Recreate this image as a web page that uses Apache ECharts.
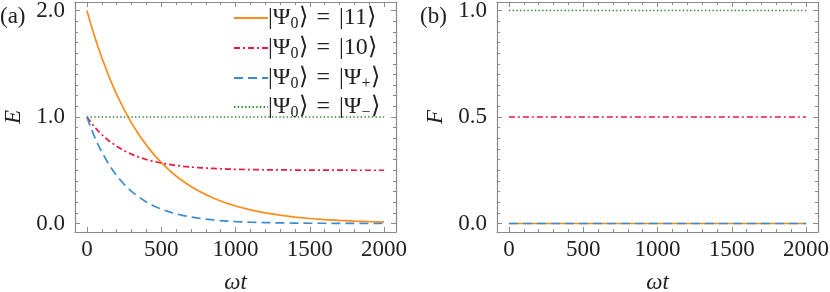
<!DOCTYPE html>
<html>
<head>
<meta charset="utf-8">
<script src="https://cdn.jsdelivr.net/npm/echarts@6/dist/echarts.min.js"></script>
<style>html,body{margin:0;padding:0;background:#fff;}#c{width:830px;height:292px;}</style>
</head>
<body>
<div id="c"></div>
<script>
// ---- data ----
const tA = [0, 25, 50, 75, 100, 150, 200, 250, 300, 350, 400, 450, 500, 550, 600, 650, 700, 750, 800, 850, 900, 950, 1000, 1100, 1200, 1300, 1400, 1500, 1600, 1700, 1800, 1900, 2000];
const E11 = [2.000, 1.879, 1.765, 1.658, 1.558, 1.375, 1.213, 1.071, 0.945, 0.834, 0.736, 0.649, 0.573, 0.506, 0.446, 0.394, 0.348, 0.307, 0.271, 0.239, 0.211, 0.186, 0.164, 0.128, 0.100, 0.078, 0.060, 0.047, 0.037, 0.029, 0.022, 0.017, 0.013];
const E10 = [1.000, 0.952, 0.909, 0.870, 0.835, 0.774, 0.725, 0.684, 0.651, 0.623, 0.601, 0.583, 0.568, 0.555, 0.545, 0.537, 0.530, 0.525, 0.520, 0.517, 0.514, 0.511, 0.509, 0.506, 0.504, 0.503, 0.502, 0.501, 0.501, 0.501, 0.500, 0.500, 0.500];
const EPlus = [1.000, 0.905, 0.819, 0.741, 0.670, 0.549, 0.449, 0.368, 0.301, 0.247, 0.202, 0.165, 0.135, 0.111, 0.091, 0.074, 0.061, 0.050, 0.041, 0.033, 0.027, 0.022, 0.018, 0.012, 0.008, 0.006, 0.004, 0.002, 0.002, 0.001, 0.001, 0.000, 0.000];
const tMinus = [0, 2000];
const EMinus = [1.0, 1.0];
const tB = [0, 2000];
const F11 = [0, 0];
const F10 = [0.5, 0.5];
const FPlus = [0, 0];
const FMinus = [1, 1];
const xTicks = [0, 500, 1000, 1500, 2000];
const yTicksA = [0, 1, 2];
const yTicksB = [0, 0.5, 1];
const names = ['s11', 's10', 'sPlus', 'sMinus'];
const legendTexts = [
  '|Ψ{sub|0}⟩{eq|=}|11⟩',
  '|Ψ{sub|0}⟩{eq|=}|10⟩',
  '|Ψ{sub|0}⟩{eq|=}|Ψ{sub|+}⟩',
  '|Ψ{sub|0}⟩{eq|=}|Ψ{sub|−}⟩'
];

const FONT = "'Liberation Serif', 'Times New Roman', serif";
const FRAME = '#8a8a8a';
const TXT = '#222';
const colors = ['#ff8c1a', '#f0173c', '#3a8ccf', '#2a8a2a'];
const dashes = ['solid', [6, 3, 2, 3], [9, 5], [1.4, 2.3]];
const widths = [1.7, 1.7, 1.7, 1.7];

function range(a, b, s) { const r = []; for (let v = a; v <= b + 1e-9; v += s) r.push(+v.toFixed(6)); return r; }
const xMinor = range(0, 2000, 100);
const yMinorA = range(0, 2, 0.1);
const yMinorB = range(0, 1, 0.05);

const grids = [
  { left: 75, top: 2, width: 321, height: 230, containLabel: false, outerBoundsMode: 'none' },
  { left: 497, top: 2, width: 321, height: 230, containLabel: false, outerBoundsMode: 'none' }
];

const xAxis = [], yAxis = [];
function addX(gi, pos, major, withLabel) {
  xAxis.push({
    type: 'value', gridIndex: gi, position: pos, min: -80, max: 2080,
    axisLine: { show: major, onZero: false, lineStyle: { color: FRAME, width: 1.2 } },
    axisTick: { show: true, inside: true, length: major ? 5 : 3, customValues: major ? xTicks : xMinor, lineStyle: { color: FRAME, width: 1 } },
    axisLabel: { show: withLabel, customValues: xTicks, formatter: v => String(v), color: TXT, fontFamily: FONT, fontSize: 23, margin: 6 },
    splitLine: { show: false },
    name: withLabel ? 'ωt' : '', nameLocation: 'middle', nameGap: 39, nameMoveOverlap: false,
    nameTextStyle: { fontFamily: FONT, fontSize: 23, fontStyle: 'italic', color: TXT }
  });
  return xAxis.length - 1;
}
function addY(gi, pos, major, withLabel, mn, mx, ticks, minors, fmt, nm) {
  yAxis.push({
    type: 'value', gridIndex: gi, position: pos, min: mn, max: mx,
    axisLine: { show: major, onZero: false, lineStyle: { color: FRAME, width: 1.2 } },
    axisTick: { show: true, inside: true, length: major ? 5 : 3, customValues: major ? ticks : minors, lineStyle: { color: FRAME, width: 1 } },
    axisLabel: { show: withLabel, customValues: ticks, formatter: fmt, color: TXT, fontFamily: FONT, fontSize: 23, margin: 10 },
    splitLine: { show: false },
    name: withLabel ? nm : '', nameLocation: 'middle', nameGap: 50, nameMoveOverlap: false,
    nameTextStyle: { fontFamily: FONT, fontSize: 23, fontStyle: 'italic', color: TXT }
  });
  return yAxis.length - 1;
}
const fmt1 = v => v.toFixed(1);
const axA = {
  x: addX(0, 'bottom', true, true),
  y: addY(0, 'left', true, true, -0.08, 2.08, yTicksA, yMinorA, fmt1, 'E')
};
addX(0, 'bottom', false, false); addX(0, 'top', true, false); addX(0, 'top', false, false);
addY(0, 'left', false, false, -0.08, 2.08, yTicksA, yMinorA, fmt1, '');
addY(0, 'right', true, false, -0.08, 2.08, yTicksA, yMinorA, fmt1, '');
addY(0, 'right', false, false, -0.08, 2.08, yTicksA, yMinorA, fmt1, '');
const axB = {
  x: addX(1, 'bottom', true, true),
  y: addY(1, 'left', true, true, -0.04, 1.04, yTicksB, yMinorB, fmt1, 'F')
};
addX(1, 'bottom', false, false); addX(1, 'top', true, false); addX(1, 'top', false, false);
addY(1, 'left', false, false, -0.04, 1.04, yTicksB, yMinorB, fmt1, '');
addY(1, 'right', true, false, -0.04, 1.04, yTicksB, yMinorB, fmt1, '');
addY(1, 'right', false, false, -0.04, 1.04, yTicksB, yMinorB, fmt1, '');

function pairs(xs, ys) { return xs.map((x, i) => [x, ys[i]]); }
const series = [];
[[tA, E11], [tA, E10], [tA, EPlus], [tMinus, EMinus]].forEach((d, i) => {
  series.push({
    name: names[i], type: 'line', xAxisIndex: axA.x, yAxisIndex: axA.y,
    data: pairs(d[0], d[1]), symbol: 'none', showSymbol: false,
    lineStyle: { color: colors[i], width: widths[i], type: dashes[i] }, itemStyle: { color: colors[i] },
    emphasis: { disabled: true }, animation: false
  });
});
[F11, F10, FPlus, FMinus].forEach((ys, i) => {
  series.push({
    name: names[i] + 'B', type: 'line', xAxisIndex: axB.x, yAxisIndex: axB.y,
    data: pairs(tB, ys), symbol: 'none', showSymbol: false,
    lineStyle: { color: colors[i], width: widths[i], type: dashes[i] },
    emphasis: { disabled: true }, animation: false
  });
});

const rowTops = [-1, 29, 59, 88];
const legend = names.map((n, i) => ({
  data: [n], left: 228, top: rowTops[i], orient: 'vertical',
  itemWidth: 34, itemHeight: 12, itemGap: 0, selectedMode: false,
  itemStyle: { opacity: 0 },
  formatter: () => legendTexts[i],
  textStyle: {
    fontFamily: FONT, fontSize: 24, lineHeight: 28, color: TXT, padding: [0, 0, 0, -5],
    rich: {
      sub: { fontFamily: FONT, fontSize: 16, lineHeight: 15, color: TXT, verticalAlign: 'bottom' },
      eq: { fontFamily: FONT, fontSize: 24, lineHeight: 28, color: TXT, padding: [0, 9, 0, 9] }
    }
  }
}));

const chart = echarts.init(document.getElementById('c'), null, { renderer: 'canvas' });
chart.setOption({
  animation: false,
  backgroundColor: '#fff',
  grid: grids,
  xAxis, yAxis, series, legend,
  graphic: [
    { type: 'text', left: 0, top: 5, style: { text: '(a)', font: "23px 'Liberation Serif'", fill: TXT } },
    { type: 'text', left: 420, top: 5, style: { text: '(b)', font: "23px 'Liberation Serif'", fill: TXT } }
  ]
});
</script>
</body>
</html>
